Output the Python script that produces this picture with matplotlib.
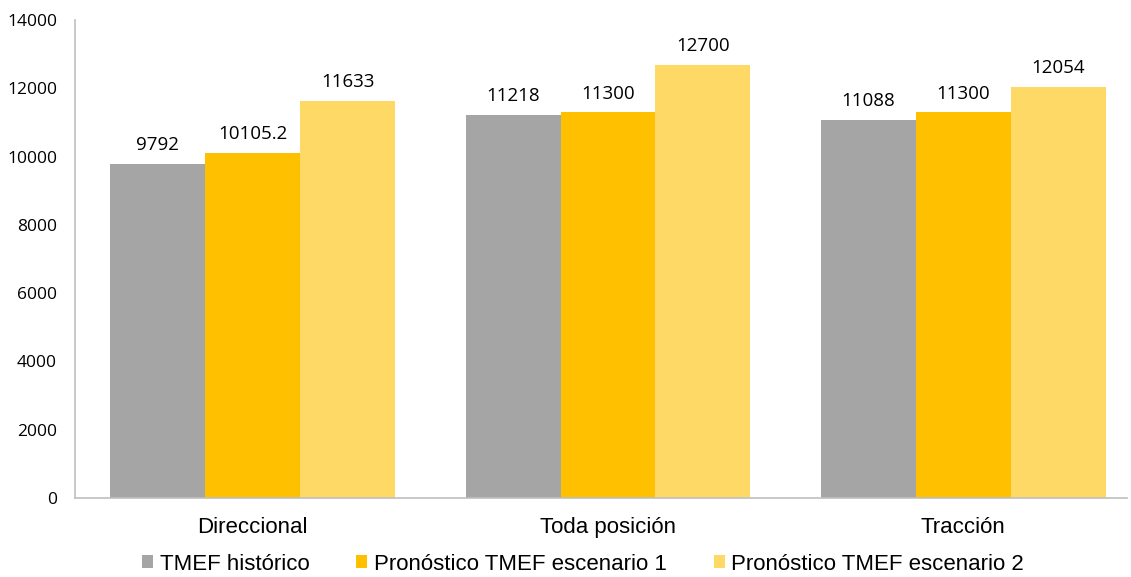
import matplotlib.pyplot as plt
import numpy as np

categories = ['Direccional', 'Toda posición', 'Tracción']
historico = [9792, 11218, 11088]
escenario1 = [10105.2, 11300, 11300]
escenario2 = [11633, 12700, 12054]
series_names = ['TMEF histórico', 'Pronóstico TMEF escenario 1', 'Pronóstico TMEF escenario 2']
value_labels = [['9792', '11218', '11088'],
                ['10105.2', '11300', '11300'],
                ['11633', '12700', '12054']]
colors = ['#A5A5A5', '#FFC000', '#FFD966']

fig = plt.figure(figsize=(11.31, 5.77), dpi=100)
ax = fig.add_axes([0.0663, 0.137, 0.93, 0.828])

x = np.arange(len(categories))
w = 0.267
for i, (vals, name, col) in enumerate(zip([historico, escenario1, escenario2], series_names, colors)):
    b = ax.bar(x + (i - 1) * w, vals, w, color=col, label=name)
    for rect, lab in zip(b, value_labels[i]):
        ax.annotate(lab, (rect.get_x() + rect.get_width() / 2, rect.get_height()),
                    xytext=(0, 7), textcoords='offset points', ha='center', va='bottom',
                    fontsize=13.5, family='Open Sans')

ax.set_xlim(-0.5, 2.46)
ax.set_ylim(0, 14000)
ax.set_yticks(range(0, 14001, 2000))
ax.set_xticks(x)
ax.set_xticklabels(categories, fontsize=16, family='Liberation Sans')
for t in ax.get_yticklabels():
    t.set_fontsize(12.5)
    t.set_family('Open Sans')
ax.tick_params(axis='both', length=0)
ax.tick_params(axis='y', pad=13)
ax.tick_params(axis='x', pad=14)

for s in ['top', 'right']:
    ax.spines[s].set_visible(False)
for s in ['left', 'bottom']:
    ax.spines[s].set_color('#BFBFBF')
    ax.spines[s].set_linewidth(1.2)

leg = ax.legend(loc='lower center', bbox_to_anchor=(0.483, -0.165), ncol=3, frameon=False,
                prop={'family': 'Liberation Sans', 'size': 16}, handlelength=0.5,
                handleheight=0.5, handletextpad=0.3, columnspacing=2.1,
                borderpad=0.1, borderaxespad=0)

fig.savefig('out.png', dpi=100)
